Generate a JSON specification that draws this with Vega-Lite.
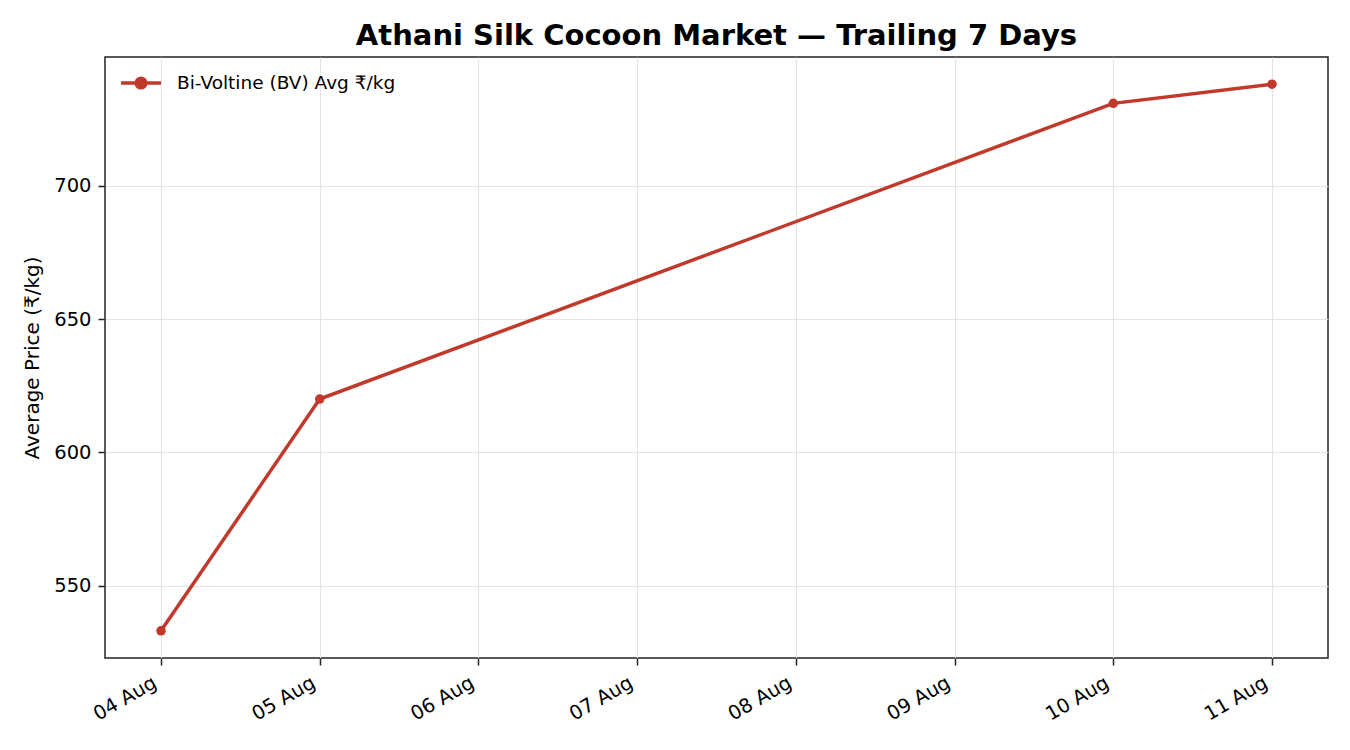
{
  "$schema": "https://vega.github.io/schema/vega-lite/v6.json",
  "width": 1223,
  "height": 601,
  "autosize": {"type": "none"},
  "padding": {"left": 105, "top": 57, "right": 22, "bottom": 92},
  "background": "white",
  "title": {
    "text": "Athani Silk Cocoon Market — Trailing 7 Days",
    "font": "DejaVu Sans",
    "fontSize": 29,
    "fontWeight": "bold",
    "color": "black",
    "anchor": "middle",
    "offset": 6
  },
  "data": {
    "values": [
      {"date": "2024-08-04T00:00:00", "price": 533, "series": "Bi-Voltine (BV) Avg ₹/kg"},
      {"date": "2024-08-05T00:00:00", "price": 620, "series": "Bi-Voltine (BV) Avg ₹/kg"},
      {"date": "2024-08-10T00:00:00", "price": 731, "series": "Bi-Voltine (BV) Avg ₹/kg"},
      {"date": "2024-08-11T00:00:00", "price": 738.2, "series": "Bi-Voltine (BV) Avg ₹/kg"}
    ]
  },
  "mark": {"type": "line", "strokeWidth": 3.5, "point": {"size": 90, "filled": true}},
  "encoding": {
    "x": {
      "field": "date",
      "type": "temporal",
      "scale": {"domain": ["2024-08-03T15:32:00", "2024-08-11T08:28:00"], "nice": false},
      "axis": {
        "title": null,
        "format": "%d %b",
        "values": ["2024-08-04T00:00:00", "2024-08-05T00:00:00", "2024-08-06T00:00:00", "2024-08-07T00:00:00", "2024-08-08T00:00:00", "2024-08-09T00:00:00", "2024-08-10T00:00:00", "2024-08-11T00:00:00"],
        "labelAngle": -30,
        "labelAlign": "right",
        "labelBaseline": "top",
        "labelPadding": 8,
        "labelOffset": -11
      }
    },
    "y": {
      "field": "price",
      "type": "quantitative",
      "scale": {"domain": [522.8, 748.4], "nice": false, "zero": false},
      "axis": {"title": "Average Price (₹/kg)", "titleFontSize": 20, "values": [550, 600, 650, 700], "titlePadding": 11, "labelPadding": 7}
    },
    "color": {
      "field": "series",
      "type": "nominal",
      "scale": {"range": ["#c0392b"]},
      "legend": {
        "title": null,
        "orient": "none",
        "legendX": 14,
        "legendY": 4,
        "labelFont": "DejaVu Sans",
        "labelFontSize": 18.5,
        "labelLimit": 500,
        "labelColor": "black",
        "symbolType": "M-1,0L1,0M-0.24,0A0.24,0.24 0 1,1 0.24,0A0.24,0.24 0 1,1 -0.24,0",
        "symbolSize": 1600,
        "symbolStrokeWidth": 3.5,
        "symbolFillColor": "#c0392b",
        "symbolStrokeColor": "#c0392b",
        "labelOffset": 14
      }
    }
  },
  "config": {
    "font": "DejaVu Sans",
    "view": {"stroke": "#222222", "strokeWidth": 1.5},
    "axis": {
      "labelFont": "DejaVu Sans",
      "labelFontSize": 19.5,
      "labelColor": "black",
      "titleFont": "DejaVu Sans",
      "titleFontSize": 19.5,
      "titleFontWeight": "normal",
      "titleColor": "black",
      "domain": false,
      "tickColor": "#222222",
      "tickSize": 7,
      "tickWidth": 1.5,
      "grid": true,
      "gridColor": "#e3e3e3",
      "gridWidth": 1
    }
  }
}
